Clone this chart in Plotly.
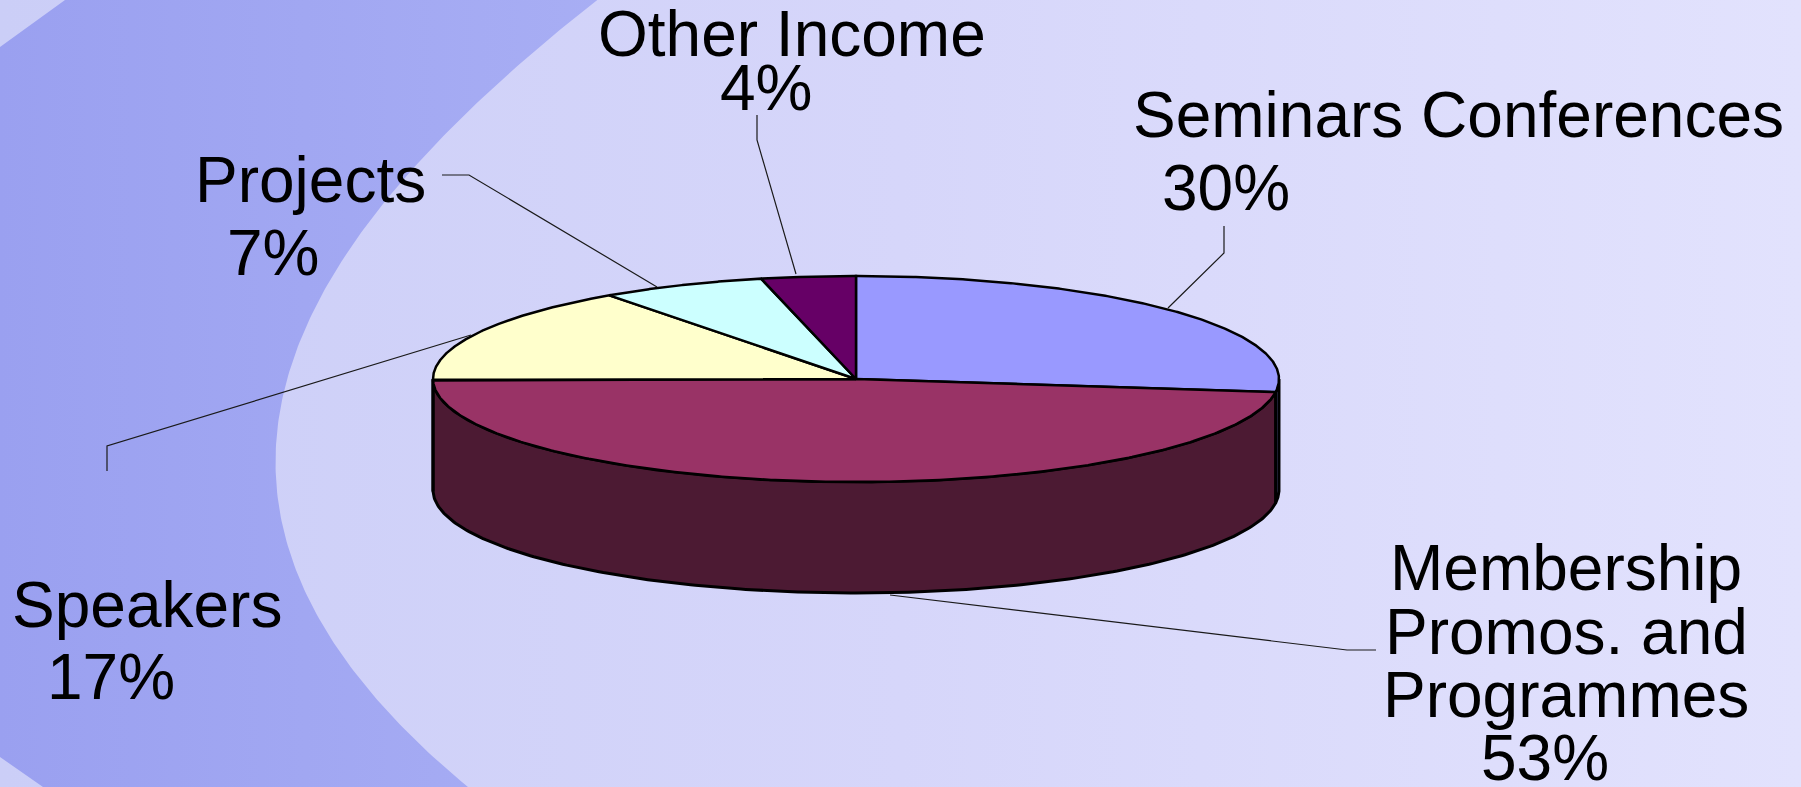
import numpy as np
import plotly.graph_objects as go

# ---------------- data ----------------
categories = ["Seminars Conferences", "Membership\nPromos. and\nProgrammes",
              "Speakers", "Projects", "Other Income"]
values = [30, 53, 17, 7, 4]
pct_labels = [f"{v}%" for v in values]
top_colors = ["#9999FF", "#993366", "#FFFFCC", "#CCFFFF", "#660066"]
side_colors = ["#4D4D80", "#4C1A33", "#80806A", "#668080", "#330033"]

# ---------------- layout constants ----------------
W, H = 1801, 787
CX, CY, RX, RY, DEPTH = 856, 379, 423, 103, 111
FONT = "Liberation Sans, Arial, sans-serif"
FS = 64

# label line positions (x centre, y centre) per category, last one is the percentage
label_pos = [
    [(1458, 115), (1226, 188)],
    [(1566, 568), (1566, 632), (1566, 695), (1545, 758)],
    [(147, 605), (111, 677)],
    [(310, 180), (273, 253)],
    [(792, 34), (766, 88)],
]
# leader lines (slice anchor -> elbow -> end)
leaders = [
    [(1168, 308), (1224, 253), (1224, 226)],
    [(890, 595), (1347, 650), (1376, 650)],
    [(471, 335), (107, 446), (107, 471)],
    [(657, 287), (469, 175), (442, 175)],
    [(796, 274), (757, 140), (757, 115)],
]

# decorative background arc (inner edge of the darker band), sampled points
arc_y = [0, 57, 100, 147, 200, 257, 292, 340, 390, 457, 507, 557, 605, 642, 687, 740, 787]
arc_x = [597, 530, 477, 430, 390, 350, 320, 297, 283, 277, 282, 292, 308, 333, 367, 417, 467]

fig = go.Figure()

# ---------------- background ----------------
fig.add_trace(go.Scatter(
    x=[0, W, W, 0, 0], y=[0, 0, H, H, 0], mode="lines", fill="toself",
    line=dict(width=0), fillcolor="#D6D7FA",
    fillgradient=dict(type="horizontal",
                      colorscale=[[0, "#CBCEF7"], [0.5, "#D6D6FA"], [1, "#E2E2FD"]]),
    hoverinfo="skip", showlegend=False))

coef = np.polyfit(arc_y, arc_x, 4)
yy = np.linspace(-10, H + 10, 200)
xx = np.polyval(coef, yy)
band_x = np.concatenate([[0, 65, xx[0]], xx, [43, 0, 0]])
band_y = np.concatenate([[47, 0, -10], yy, [H, 757, 47]])
fig.add_trace(go.Scatter(
    x=band_x, y=band_y, mode="lines", fill="toself", line=dict(width=0),
    fillcolor="#A1A7F2",
    fillgradient=dict(type="horizontal",
                      colorscale=[[0, "#9AA0F0"], [1, "#A8AEF4"]]),
    hoverinfo="skip", showlegend=False))

# ---------------- 3D pie ----------------
fr = np.array(values, dtype=float) / np.sum(values)
bounds = np.concatenate([[0.0], np.cumsum(fr) * 360.0])


def ell(theta_deg, dy=0.0):
    t = np.radians(theta_deg)
    return CX + RX * np.sin(t), CY - RY * np.cos(t) + dy


# side walls (front half only: 90..270 deg clockwise from top)
for i in range(len(values)):
    lo, hi = max(bounds[i], 90.0), min(bounds[i + 1], 270.0)
    if lo >= hi:
        continue
    th = np.linspace(lo, hi, 240)
    xt, yt = ell(th)
    xb, yb = ell(th[::-1], DEPTH)
    xs = np.concatenate([xt, xb, xt[:1]])
    ys = np.concatenate([yt, yb, yt[:1]])
    fig.add_trace(go.Scatter(
        x=xs, y=ys, mode="lines", fill="toself", fillcolor=side_colors[i],
        line=dict(color="black", width=3), hoverinfo="skip", showlegend=False))

# top faces
for i in range(len(values)):
    th = np.linspace(bounds[i], bounds[i + 1], 300)
    xe, ye = ell(th)
    xs = np.concatenate([[CX], xe, [CX]])
    ys = np.concatenate([[CY], ye, [CY]])
    fig.add_trace(go.Scatter(
        x=xs, y=ys, mode="lines", fill="toself", fillcolor=top_colors[i],
        line=dict(color="black", width=2.5), hoverinfo="skip", showlegend=False))

# leader lines
for pts in leaders:
    fig.add_trace(go.Scatter(
        x=[p[0] for p in pts], y=[p[1] for p in pts], mode="lines",
        line=dict(color="#1a1a1a", width=1.2), hoverinfo="skip", showlegend=False))

# labels
annotations = []
for i, cat in enumerate(categories):
    lines = cat.split("\n") + [pct_labels[i]]
    for txt, (x, y) in zip(lines, label_pos[i]):
        annotations.append(dict(
            x=x, y=y, xref="x", yref="y", text=txt, showarrow=False,
            xanchor="center", yanchor="middle",
            font=dict(family=FONT, size=FS, color="black")))

fig.update_layout(
    width=W, height=H, margin=dict(l=0, r=0, t=0, b=0),
    paper_bgcolor="#D6D7FA", plot_bgcolor="rgba(0,0,0,0)",
    xaxis=dict(range=[0, W], visible=False, fixedrange=True),
    yaxis=dict(range=[H, 0], visible=False, fixedrange=True),
    annotations=annotations, showlegend=False, hovermode=False,
)

fig.write_html("out.html", config={"displayModeBar": False})

# remove the default page margin so the figure sits at the window's top-left corner
with open("out.html", "r", encoding="utf-8") as f:
    html = f.read()
html = html.replace("<head>", "<head><style>html,body{margin:0;padding:0;overflow:hidden;}</style>", 1)
with open("out.html", "w", encoding="utf-8") as f:
    f.write(html)
